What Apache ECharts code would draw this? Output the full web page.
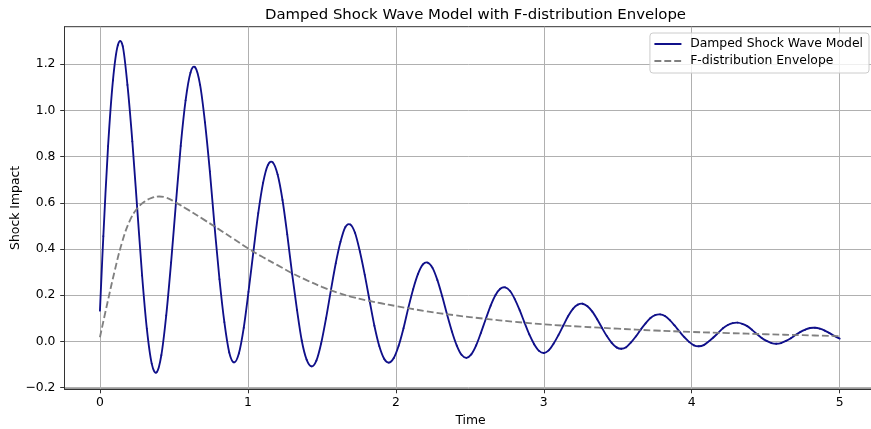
<!DOCTYPE html>
<html>
<head>
<meta charset="utf-8">
<script src="https://cdn.jsdelivr.net/npm/echarts@6/dist/echarts.min.js"></script>
<style>
  html, body { margin: 0; padding: 0; background: #ffffff; }
  #chart { width: 871px; height: 429px; }
</style>
</head>
<body>
<div id="chart"></div>
<script>
// damped wave (time / impact)
const waveTime = [
  0.000, 0.023, 0.055, 0.088, 0.121, 0.154, 0.186, 0.219, 0.252, 0.285,
  0.317, 0.350, 0.383, 0.415, 0.448, 0.481, 0.514, 0.546, 0.579, 0.612,
  0.644, 0.677, 0.710, 0.743, 0.775, 0.808, 0.841, 0.874, 0.906, 0.939,
  0.972, 1.004, 1.037, 1.070, 1.103, 1.135, 1.168, 1.201, 1.234, 1.266,
  1.299, 1.332, 1.364, 1.397, 1.430, 1.463, 1.495, 1.528, 1.561, 1.594,
  1.626, 1.659, 1.692, 1.724, 1.757, 1.790, 1.823, 1.855, 1.888, 1.921,
  1.953, 1.986, 2.019, 2.052, 2.084, 2.117, 2.150, 2.183, 2.215, 2.248,
  2.281, 2.313, 2.346, 2.379, 2.412, 2.444, 2.477, 2.510, 2.543, 2.575,
  2.608, 2.641, 2.673, 2.706, 2.739, 2.772, 2.804, 2.837, 2.870, 2.902,
  2.935, 2.968, 3.001, 3.033, 3.066, 3.099, 3.132, 3.164, 3.197, 3.230,
  3.262, 3.295, 3.328, 3.361, 3.393, 3.426, 3.459, 3.492, 3.524, 3.557,
  3.590, 3.622, 3.655, 3.688, 3.721, 3.753, 3.786, 3.819, 3.852, 3.884,
  3.917, 3.950, 3.982, 4.015, 4.048, 4.081, 4.113, 4.146, 4.179, 4.211,
  4.244, 4.277, 4.310, 4.342, 4.375, 4.408, 4.440, 4.473, 4.506, 4.539,
  4.571, 4.604, 4.637, 4.670, 4.702, 4.735, 4.768, 4.800, 4.833, 4.866,
  4.899, 4.931, 4.964, 5.000
];
const waveImpact = [
  0.133, 0.455, 0.845, 1.130, 1.282, 1.278, 1.110, 0.866, 0.576, 0.285,
  0.055, -0.096, -0.134, -0.060, 0.112, 0.342, 0.601, 0.846, 1.043, 1.163,
  1.186, 1.110, 0.948, 0.736, 0.497, 0.269, 0.083, -0.048, -0.091, -0.052,
  0.059, 0.214, 0.387, 0.555, 0.687, 0.763, 0.775, 0.722, 0.612, 0.463,
  0.292, 0.136, 0.004, -0.079, -0.108, -0.083, -0.009, 0.099, 0.221, 0.338,
  0.431, 0.495, 0.506, 0.470, 0.389, 0.288, 0.175, 0.068, -0.020, -0.075,
  -0.092, -0.072, -0.019, 0.057, 0.144, 0.226, 0.292, 0.333, 0.341, 0.318,
  0.265, 0.196, 0.117, 0.043, -0.018, -0.058, -0.071, -0.056, -0.017, 0.037,
  0.097, 0.155, 0.200, 0.228, 0.234, 0.218, 0.183, 0.135, 0.081, 0.030,
  -0.012, -0.041, -0.050, -0.039, -0.010, 0.027, 0.069, 0.109, 0.141, 0.159,
  0.163, 0.152, 0.129, 0.096, 0.059, 0.023, -0.006, -0.026, -0.032, -0.025,
  -0.004, 0.021, 0.051, 0.078, 0.101, 0.114, 0.117, 0.110, 0.092, 0.069,
  0.043, 0.018, -0.002, -0.017, -0.021, -0.016, -0.001, 0.017, 0.037, 0.057,
  0.071, 0.079, 0.081, 0.076, 0.066, 0.050, 0.032, 0.015, 0.002, -0.007,
  -0.010, -0.007, 0.002, 0.014, 0.028, 0.041, 0.051, 0.058, 0.059, 0.055,
  0.047, 0.036, 0.024, 0.012
];

// F-distribution envelope
const envTime = [
  0, 0.05, 0.1, 0.15, 0.2, 0.25, 0.3, 0.35, 0.4, 0.45, 0.5, 0.6, 0.7, 0.8,
  0.9, 1.0, 1.1, 1.2, 1.3, 1.4, 1.5, 1.6, 1.7, 1.8, 1.9, 2.0, 2.2, 2.4, 2.6,
  2.8, 3.0, 3.25, 3.5, 3.75, 4.0, 4.25, 4.5, 4.75, 5.0
];
const envValue = [
  0.018, 0.165, 0.306, 0.430, 0.520, 0.574, 0.604, 0.621, 0.627, 0.622,
  0.606, 0.568, 0.528, 0.487, 0.445, 0.403, 0.365, 0.330, 0.295, 0.264,
  0.236, 0.212, 0.193, 0.178, 0.165, 0.153, 0.131, 0.113, 0.098, 0.085,
  0.074, 0.064, 0.055, 0.047, 0.041, 0.036, 0.031, 0.027, 0.023
];

const xTicks = [0, 1, 2, 3, 4, 5];
const yTicks = [-0.2, 0, 0.2, 0.4, 0.6, 0.8, 1.0, 1.2];

const font = 'DejaVu Sans';
const waveColor = '#10108a';
const chart = echarts.init(document.getElementById('chart'));

const near = (v, list) => list.some(t => Math.abs(v - t) < 1e-6);

// wave drawn as a catmull-rom spline through the data points (pixel coords from the axes)
const renderWave = (params, api) => {
  if (params.dataIndex !== 0) return;
  const pts = waveTime.map((t, i) => api.coord([t, waveImpact[i]]));
  const n = pts.length;
  const segs = [];
  for (let i = 0; i < n - 1; i++) {
    const p0 = pts[Math.max(i - 1, 0)];
    const p1 = pts[i];
    const p2 = pts[i + 1];
    const p3 = pts[Math.min(i + 2, n - 1)];
    segs.push({
      type: 'bezierCurve',
      shape: {
        x1: p1[0], y1: p1[1], x2: p2[0], y2: p2[1],
        cpx1: p1[0] + (p2[0] - p0[0]) / 6, cpy1: p1[1] + (p2[1] - p0[1]) / 6,
        cpx2: p2[0] - (p3[0] - p1[0]) / 6, cpy2: p2[1] - (p3[1] - p1[1]) / 6
      },
      style: { fill: 'none', stroke: waveColor, lineWidth: 1.85, lineCap: 'round', lineJoin: 'round' }
    });
  }
  return { type: 'group', children: segs };
};

chart.setOption({
  animation: false,
  backgroundColor: '#ffffff',
  title: {
    text: 'Damped Shock Wave Model with F-distribution Envelope',
    left: 470.5,
    top: 3,
    textAlign: 'center',
    textStyle: { fontFamily: font, fontSize: 14.9, fontWeight: 'normal', color: '#000' }
  },
  legend: {
    orient: 'vertical',
    right: 2,
    top: 33,
    align: 'left',
    padding: [5, 6, 6, 3.5],
    itemWidth: 27,
    itemHeight: 14,
    itemGap: 5,
    borderColor: '#cccccc',
    borderWidth: 1,
    borderRadius: 3,
    backgroundColor: 'rgba(255,255,255,0.8)',
    itemStyle: { opacity: 0 },
    textStyle: { fontFamily: font, fontSize: 12.4, color: '#000', padding: [0, 0, 0, 3.7] },
    data: ['Damped Shock Wave Model', 'F-distribution Envelope']
  },
  grid: {
    left: 64.5,
    right: -5.6,
    top: 26.7,
    bottom: 40,
    show: true,
    borderColor: '#333',
    borderWidth: 1,
    containLabel: false,
    outerBoundsMode: 'none'
  },
  xAxis: {
    type: 'value',
    min: -0.2395,
    max: 5.2495,
    name: 'Time',
    nameLocation: 'middle',
    nameGap: 26,
    nameMoveOverlap: false,
    nameTextStyle: { fontFamily: font, fontSize: 12.4, color: '#000' },
    axisLine: { show: true, onZero: false, lineStyle: { color: '#333', width: 1 } },
    axisTick: { show: true, length: 4.3, customValues: xTicks, lineStyle: { color: '#333' } },
    axisLabel: {
      margin: 8,
      fontFamily: font,
      fontSize: 12.4,
      color: '#000',
      formatter: v => near(v, xTicks) ? String(Math.round(v)) : ''
    },
    splitLine: { show: true, lineStyle: { color: '#b0b0b0', width: 1 } }
  },
  yAxis: {
    type: 'value',
    min: -0.206,
    max: 1.362,
    splitNumber: 8,
    name: 'Shock Impact',
    nameLocation: 'middle',
    nameGap: 43,
    nameMoveOverlap: false,
    nameTextStyle: { fontFamily: font, fontSize: 12.4, color: '#000' },
    axisLine: { show: true, onZero: false, lineStyle: { color: '#333', width: 1 } },
    axisTick: { show: true, length: 4.3, customValues: yTicks, lineStyle: { color: '#333' } },
    axisLabel: {
      margin: 9,
      fontFamily: font,
      fontSize: 12.4,
      color: '#000',
      formatter: v => near(v, yTicks) ? (v < -1e-9 ? '\u2212' : '') + Math.abs(v).toFixed(1) : ''
    },
    splitLine: { show: true, lineStyle: { color: '#b0b0b0', width: 1 } }
  },
  series: [
    {
      // legend entry only
      name: 'Damped Shock Wave Model',
      type: 'line',
      data: [],
      symbol: 'none',
      color: waveColor,
      lineStyle: { color: waveColor, width: 1.85 }
    },
    {
      name: 'Damped Shock Wave Model',
      type: 'custom',
      data: waveTime.map((t, i) => [t, waveImpact[i]]),
      encode: { x: 0, y: 1 },
      renderItem: renderWave,
      color: waveColor,
      z: 2
    },
    {
      name: 'F-distribution Envelope',
      type: 'line',
      data: envTime.map((t, i) => [t, envValue[i]]),
      smooth: 0.4,
      symbol: 'none',
      color: '#808080',
      lineStyle: { color: '#808080', width: 1.85, type: [6.9, 3.0] },
      z: 3
    }
  ]
});
</script>
</body>
</html>
